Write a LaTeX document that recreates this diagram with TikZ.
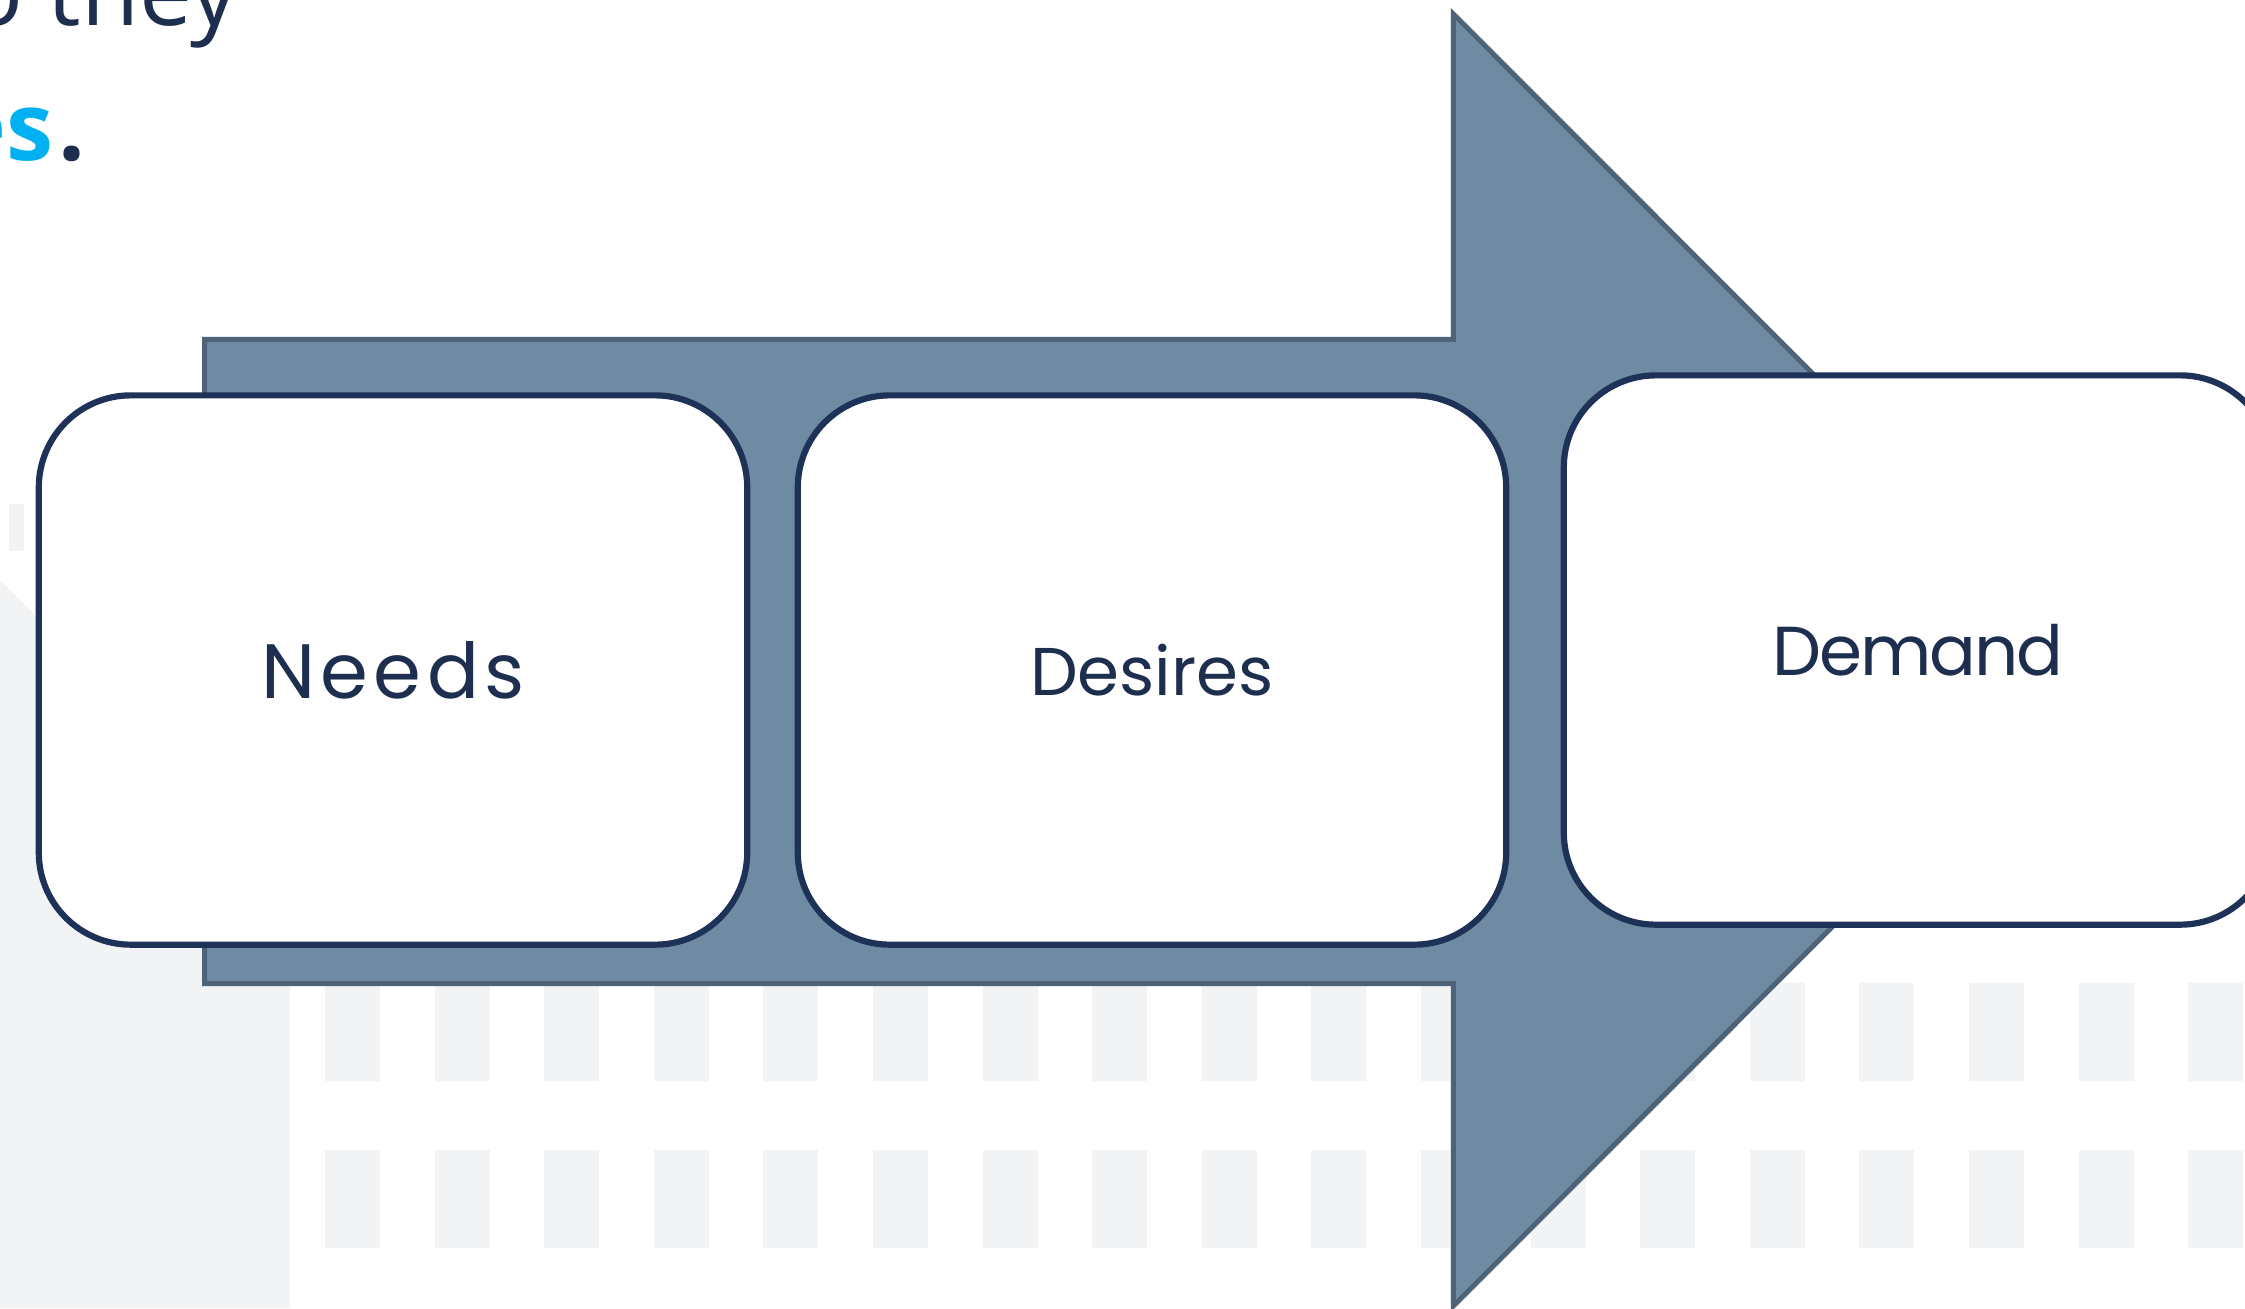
\documentclass[tikz,border=0pt]{standalone}
\usepackage{fontspec}
\newfontfamily\labelwide{Poppins}[LetterSpace=7]
\newfontfamily\labelplain{Poppins}
\newfontfamily\labeltight{Poppins}[LetterSpace=-3]
\newfontfamily\headfont{Open Sans}
\definecolor{arrowfill}{HTML}{6F8BA4}
\definecolor{arrowedge}{HTML}{4E6377}
\definecolor{boxnavy}{HTML}{1E3257}
\definecolor{textnavy}{HTML}{1D2E4F}
\definecolor{patterngray}{HTML}{F2F3F5}
\definecolor{accentcyan}{HTML}{00B0F0}
\tikzset{
  stagebox/.style={draw=boxnavy, line width=0.062cm, fill=white,
    rounded corners=0.92cm, minimum width=7.08cm, minimum height=5.49cm,
    inner sep=0pt, text=textnavy},
  headline/.style={inner sep=0pt, font=\headfont\fontsize{26.9pt}{32pt}\selectfont},
  tile/.style={fill=patterngray, draw=none},
  bigarrow/.style={fill=arrowfill, draw=arrowedge, line width=0.05cm, line join=miter}
}
\begin{document}
\begin{tikzpicture}[x=0.01cm, y=-0.01cm]
\useasboundingbox (0,0) rectangle (2245,1308);
\fill[white] (0,0) rectangle (2245,1308);

% light background pattern
\fill[tile] (0,580) -- (290,870) -- (290,1308) -- (0,1308) -- cycle;
\fill[tile] (9,504) rectangle (24,551);
\foreach \i in {0,...,17} {
  \fill[tile] ({325+\i*109.6},983) rectangle ++(55,98);
  \fill[tile] ({325+\i*109.6},1150) rectangle ++(55,98);
}

% process arrow
\draw[bigarrow] (204.7,339.3) -- (1453.3,339.3) -- (1453.3,14) -- (2099,660)
  -- (1453.3,1306) -- (1453.3,983.6) -- (204.7,983.6) -- cycle;

% stages
\node[stagebox, font=\labelwide\fontsize{21.9pt}{26pt}\selectfont]
  (needs) at (393,670) {Needs};
\node[stagebox, font=\labelplain\fontsize{19.2pt}{23pt}\selectfont]
  (desires) at (1152,670) {Desires};
\node[stagebox, font=\labeltight\fontsize{19.7pt}{24pt}\selectfont]
  (demand) at (1918,650) {Demand};

% heading fragments
\node[headline, text=textnavy, anchor=base east] (line1) at (239,25) {o they};
\node[headline, anchor=base east] (line2) at (86,160)
  {\textcolor{accentcyan}{\bfseries es}\kern1.5pt\textcolor{textnavy}{\bfseries .}};
\end{tikzpicture}
\end{document}
